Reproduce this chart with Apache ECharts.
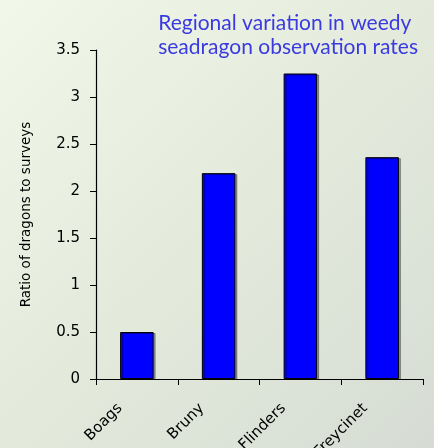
<!DOCTYPE html>
<html>
<head>
<meta charset="utf-8">
<script src="https://cdn.jsdelivr.net/npm/echarts@6/dist/echarts.min.js"></script>
<style>
  html, body { margin: 0; padding: 0; overflow: hidden; }
  #chart { width: 434px; height: 448px; }
</style>
</head>
<body>
<div id="chart"></div>
<script>
// Survey regions and the ratio of weedy seadragons seen per survey
const regions = ['Boags', 'Bruny', 'Flinders', 'Freycinet'];
const ratios = [0.5, 2.19, 3.25, 2.36];
const yTicks = [0, 0.5, 1, 1.5, 2, 2.5, 3, 3.5];

const chart = echarts.init(document.getElementById('chart'), null, { renderer: 'canvas' });

chart.setOption({
  animation: false,
  backgroundColor: {
    type: 'linear', x: 0, y: 0, x2: 1, y2: 1,
    colorStops: [
      { offset: 0, color: '#f1f8e9' },
      { offset: 0.55, color: '#e2e9db' },
      { offset: 1, color: '#d6dcd3' }
    ]
  },
  title: {
    text: 'Regional variation in weedy\nseadragon observation rates',
    right: 11,
    top: 6,
    textStyle: {
      fontFamily: '"Comic Sans MS", Lato, sans-serif',
      fontSize: 21,
      fontWeight: 'normal',
      color: '#3a3ae0',
      lineHeight: 24,
      align: 'right'
    }
  },
  grid: {
    left: 96, right: 11, top: 50, bottom: 69,
    containLabel: false,
    outerBoundsMode: 'none'
  },
  xAxis: {
    type: 'category',
    data: regions,
    axisLine: { lineStyle: { color: '#000', width: 1.2 } },
    axisTick: { show: true, length: 6, lineStyle: { color: '#000' } },
    axisLabel: {
      rotate: 45,
      margin: 10,
      padding: [0, 24, 0, 0],
      fontFamily: '"DejaVu Sans", sans-serif',
      fontSize: 15,
      color: '#000'
    }
  },
  yAxis: {
    type: 'value',
    min: yTicks[0],
    max: yTicks[yTicks.length - 1],
    interval: 0.5,
    name: 'Ratio of dragons to surveys',
    nameLocation: 'middle',
    nameGap: 63,
    nameTextStyle: {
      fontFamily: '"DejaVu Sans", sans-serif',
      fontSize: 13.5,
      color: '#000'
    },
    axisLine: { show: true, lineStyle: { color: '#000', width: 1.2 } },
    axisTick: { show: true, length: 6, lineStyle: { color: '#000' } },
    splitLine: { show: false },
    axisLabel: {
      margin: 16,
      fontFamily: '"DejaVu Sans", sans-serif',
      fontSize: 15,
      color: '#000',
      formatter: v => String(v)
    }
  },
  series: [{
    type: 'bar',
    data: ratios,
    barWidth: '41%',
    itemStyle: {
      color: '#0000ff',
      borderColor: '#000',
      borderWidth: 1,
      shadowColor: 'rgba(0,0,0,0.35)',
      shadowOffsetX: 2,
      shadowOffsetY: 1,
      shadowBlur: 0
    }
  }]
});
</script>
</body>
</html>
